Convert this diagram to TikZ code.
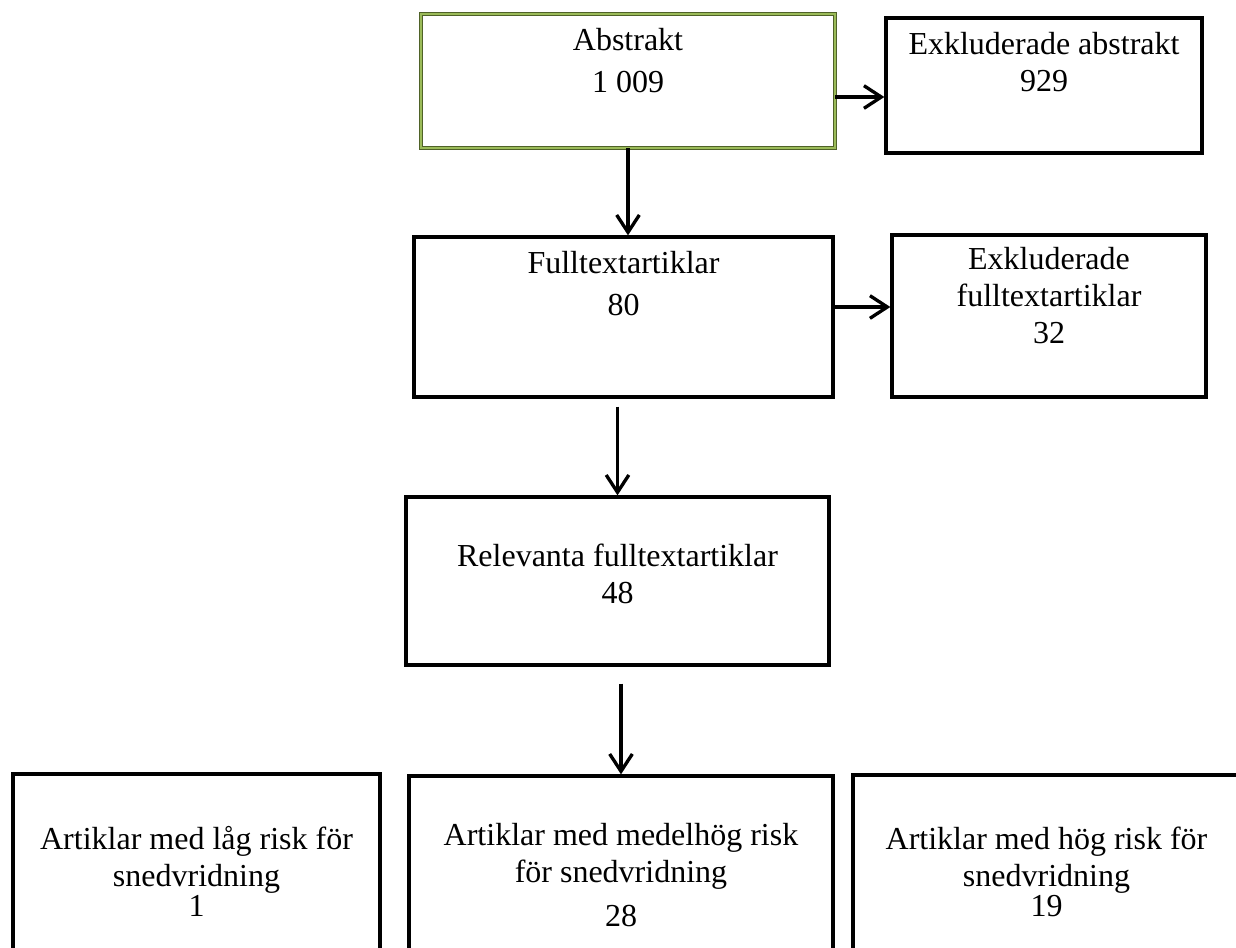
\documentclass[tikz,border=0pt]{standalone}
\usepackage{fontspec}
\setmainfont{Liberation Serif}
\usepackage{tikz}
\usetikzlibrary{arrows.meta}
\definecolor{olivedark}{HTML}{4F6228}
\definecolor{olivelight}{HTML}{9BBB59}

\begin{document}
\begin{tikzpicture}[x=0.375pt,y=-0.375pt,>={Straight Barb[length=6.5pt,width=8.5pt]},
		font=\fontsize{12}{13.9}\selectfont]
		\tikzstyle{box}=[rectangle,draw,line width=1.25pt,inner sep=0pt];
		\tikzstyle{greenbox}=[rectangle,draw=olivedark,line width=0.35pt,
			double=olivelight,double distance=0.6pt,inner sep=0pt];
		\tikzstyle{lbl}=[anchor=base,align=center,inner sep=0pt];
		\tikzstyle{arr}=[->,line width=1.25pt];
		\clip(0,0)rectangle(1236,947);

		\node[greenbox,minimum width=155.25pt,minimum height=50.25pt,
			label={[lbl,yshift=-29.6pt]north:{Abstrakt\\[1.7pt]1 009}}](abs)at(628,81){};
		\node[box,minimum width=118.5pt,minimum height=50.6pt,
			label={[lbl,yshift=-28.1pt]north:{Exkluderade abstrakt\\929}}](exabs)at(1044,85.5){};
		\node[box,minimum width=157.1pt,minimum height=60pt,
			label={[lbl,yshift=-30pt]north:{Fulltextartiklar\\[1.7pt]80}}](full)at(623.5,317){};
		\node[box,minimum width=117.75pt,minimum height=60.75pt,
			label={[lbl,yshift=-41.25pt]north:{Exkluderade\\fulltextartiklar\\32}}](exfull)at(1049,316){};
		\node[box,minimum width=158.6pt,minimum height=63pt,
			label={[lbl,yshift=-40.5pt]north:{Relevanta fulltextartiklar\\48}}](rel)at(617.5,581){};

		\node[box,minimum width=137.6pt,minimum height=69.75pt,
			label={[lbl,yshift=-54pt]north:{Artiklar med låg risk för\\snedvridning\\[-2.6pt]1}}](low)at(196.5,867){};
		\node[box,minimum width=159pt,minimum height=69pt,
			label={[lbl,yshift=-57pt]north:{Artiklar med medelhög risk\\för snedvridning\\[2.6pt]28}}](mid)at(621,868){};
		\node[box,minimum width=145.1pt,minimum height=69.4pt,
			label={[lbl,yshift=-53.6pt]north:{Artiklar med hög risk för\\snedvridning\\[-2.6pt]19}}](high)at(1046.5,867.5){};

		\draw[arr]([yshift=-6pt]abs.east)--([yshift=-6pt]abs.east-|exabs.west);
		\draw[arr](abs.south)--(abs.south|-full.north);
		\draw[arr]([yshift=3.75pt]full.east)--([yshift=3.75pt]full.east-|exfull.west);
		\draw[arr]([yshift=-3pt]full.south-|rel.north)--(rel.north);
		\draw[arr]([yshift=-6.4pt]rel.south-|mid.north)--(mid.north);
	\end{tikzpicture}
\end{document}
